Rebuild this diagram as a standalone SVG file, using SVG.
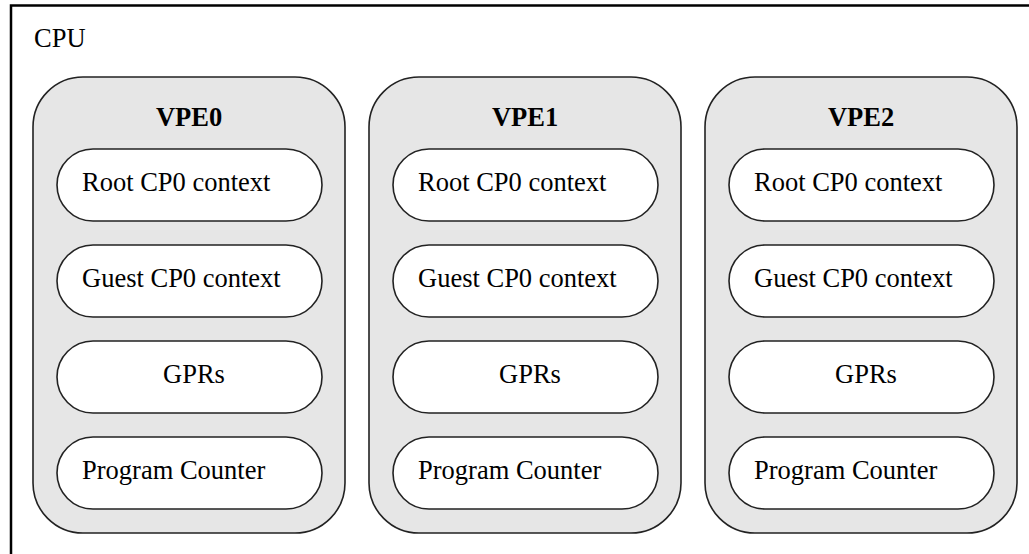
<svg xmlns="http://www.w3.org/2000/svg" width="1029" height="554" viewBox="0 0 1029 554">
<style>
.cpu{fill:#fff;stroke:#000;stroke-width:2.5}
.vpe{fill:#e6e6e6;stroke:#222;stroke-width:1.6}
.pill{fill:#fff;stroke:#222;stroke-width:1.6}
text{font-family:"Liberation Serif","Times New Roman",serif;font-size:26.5px;fill:#000}
.b{font-weight:bold}
</style>
<rect width="1029" height="554" fill="#fff"/>
<g id="cpu">
<rect class="cpu" x="11" y="5.5" width="1040" height="570"/>
<text x="34" y="47">CPU</text>
</g>
<g id="vpe0">
<rect class="vpe" x="33" y="77" width="312" height="456" rx="50" ry="50"/>
<text class="b" x="189" y="126" text-anchor="middle">VPE0</text>
<g id="vpe0-root"><rect class="pill" x="57" y="149" width="265" height="72" rx="36"/><text x="82" y="191">Root CP0 context</text></g>
<g id="vpe0-guest"><rect class="pill" x="57" y="245" width="265" height="72" rx="36"/><text x="82" y="287">Guest CP0 context</text></g>
<g id="vpe0-gprs"><rect class="pill" x="57" y="341" width="265" height="72" rx="36"/><text x="163" y="383">GPRs</text></g>
<g id="vpe0-pc"><rect class="pill" x="57" y="437" width="265" height="72" rx="36"/><text x="82" y="479">Program Counter</text></g>
</g>
<g id="vpe1">
<rect class="vpe" x="369" y="77" width="312" height="456" rx="50" ry="50"/>
<text class="b" x="525" y="126" text-anchor="middle">VPE1</text>
<g id="vpe1-root"><rect class="pill" x="393" y="149" width="265" height="72" rx="36"/><text x="418" y="191">Root CP0 context</text></g>
<g id="vpe1-guest"><rect class="pill" x="393" y="245" width="265" height="72" rx="36"/><text x="418" y="287">Guest CP0 context</text></g>
<g id="vpe1-gprs"><rect class="pill" x="393" y="341" width="265" height="72" rx="36"/><text x="499" y="383">GPRs</text></g>
<g id="vpe1-pc"><rect class="pill" x="393" y="437" width="265" height="72" rx="36"/><text x="418" y="479">Program Counter</text></g>
</g>
<g id="vpe2">
<rect class="vpe" x="705" y="77" width="312" height="456" rx="50" ry="50"/>
<text class="b" x="861" y="126" text-anchor="middle">VPE2</text>
<g id="vpe2-root"><rect class="pill" x="729" y="149" width="265" height="72" rx="36"/><text x="754" y="191">Root CP0 context</text></g>
<g id="vpe2-guest"><rect class="pill" x="729" y="245" width="265" height="72" rx="36"/><text x="754" y="287">Guest CP0 context</text></g>
<g id="vpe2-gprs"><rect class="pill" x="729" y="341" width="265" height="72" rx="36"/><text x="835" y="383">GPRs</text></g>
<g id="vpe2-pc"><rect class="pill" x="729" y="437" width="265" height="72" rx="36"/><text x="754" y="479">Program Counter</text></g>
</g>
<g id="connectors"></g>
</svg>
